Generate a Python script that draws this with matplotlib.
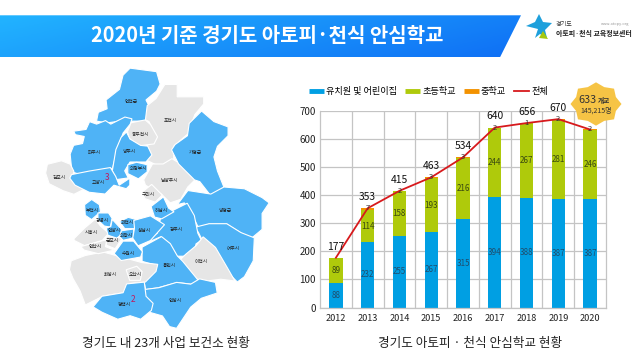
import numpy as np
import matplotlib
matplotlib.use('Agg')
import matplotlib.pyplot as plt
from matplotlib.patches import Polygon
from matplotlib.lines import Line2D

plt.rcParams['font.family'] = ['Noto Sans CJK KR', 'DejaVu Sans']

years = ['2012', '2013', '2014', '2015', '2016', '2017', '2018', '2019', '2020']
kinder = [88, 232, 255, 267, 315, 394, 388, 387, 387]
elementary = [89, 114, 158, 193, 216, 244, 267, 281, 246]
middle = [0, 7, 2, 3, 3, 2, 1, 2, 2]
total = [177, 353, 415, 463, 534, 640, 656, 670, 633]
total_labels = ['177', '353', '415', '463', '534', '640', '656', '670', '']
yticks = [0, 100, 200, 300, 400, 500, 600, 700]

BLUE = '#4fb3f6'
GRAY = '#e6e6e6'

# map outlines, in zoomed crop coordinates (x/3+30, y/3+200)
regions = [
    (BLUE, [(300,-390),(375,-380),(385,-345),(375,-325),(345,-300),(355,-280),(350,-240),(300,-240),(270,-240),(235,-235),(205,-240),(210,-265),(235,-275),(232,-300),(270,-330),(280,-370)]),
    (GRAY, [(405,-340),(440,-340),(440,-305),(515,-305),(515,-285),(490,-255),(470,-200),(430,-165),(430,-125),(395,-105),(355,-125),(350,-160),(362,-175),(380,-195),(360,-235),(350,-240),(355,-280),(380,-300)]),
    (GRAY, [(305,-230),(345,-238),(360,-225),(380,-190),(370,-170),(330,-165),(300,-185),(295,-205)]),
    (BLUE, [(135,-205),(170,-210),(180,-232),(200,-225),(225,-235),(240,-225),(280,-245),(300,-240),(295,-225),(275,-200),(260,-160),(245,-100),(200,-90),(160,-80),(130,-90),(125,-140),(135,-165),(160,-170),(165,-190),(140,-195)]),
    (BLUE, [(290,-200),(300,-180),(330,-162),(350,-160),(362,-135),(345,-115),(300,-115),(285,-90),(295,-70),(260,-65),(250,-90),(260,-150),(275,-185)]),
    (BLUE, [(295,-105),(320,-112),(350,-105),(350,-85),(325,-65),(295,-80)]),
    (GRAY, [(55,-105),(95,-115),(120,-105),(130,-85),(125,-65),(160,-35),(130,-20),(100,-30),(60,-50),(50,-80)]),
    (BLUE, [(130,-75),(180,-85),(240,-95),(255,-70),(265,-45),(295,-65),(295,-45),(285,-35),(250,-45),(225,-20),(180,-25),(140,-45),(125,-65)]),
    (GRAY, [(345,-60),(370,-105),(400,-105),(425,-120),(450,-105),(490,-60),(470,-40),(450,-5),(420,5),(410,-5),(395,-20),(375,-30),(350,-45)]),
    (BLUE, [(515,-260),(550,-230),(590,-215),(590,-190),(560,-160),(550,-130),(560,-90),(582,-35),(545,-15),(510,-60),(495,-65),(450,-110),(430,-150),(440,-165),(475,-190),(480,-225)]),
    (GRAY, [(340,-25),(365,-45),(395,-15),(375,5),(345,-5)]),
    (BLUE, [(480,-25),(545,-15),(582,-35),(640,-30),(690,-5),(710,10),(690,40),(690,85),(660,110),(630,95),(590,70),(540,70),(510,80),(490,40),(470,10),(450,15)]),
    (BLUE, [(500,85),(540,75),(590,75),(630,100),(668,115),(665,180),(640,225),(620,240),(590,210),(560,150),(520,120),(510,100)]),
    (BLUE, [(470,15),(490,50),(500,100),(510,120),(495,130),(490,150),(460,165),(440,165),(420,130),(395,110),(360,125),(370,110),(385,100),(395,55),(430,35)]),
    (GRAY, [(520,115),(555,145),(590,205),(610,240),(570,235),(530,240),(500,235),(455,180),(470,165),(500,140)]),
    (BLUE, [(340,145),(395,115),(420,135),(440,170),(455,185),(500,240),(480,250),(440,245),(385,260),(350,265),(345,240),(375,210),(375,195),(340,185)]),
    (BLUE, [(350,270),(390,265),(440,250),(480,255),(505,240),(550,250),(555,280),(510,295),(480,320),(440,380),(420,375),(400,345),(365,335),(345,300)]),
    (GRAY, [(130,185),(170,170),(220,160),(330,190),(375,195),(370,215),(340,245),(290,250),(280,275),(220,285),(170,310),(155,270),(135,235),(125,210)]),
    (BLUE, [(290,255),(340,250),(345,290),(365,310),(360,330),(330,355),(300,345),(265,355),(220,335),(195,320),(220,290),(280,280)]),
    (GRAY, [(290,210),(320,200),(335,215),(330,240),(300,240)]),
]
regions_center = [
    (GRAY, [(0,130),(30,100),(60,75),(75,95),(98,115),(80,135),(30,150),(0,135)]),
    (GRAY, [(20,155),(95,135),(90,155),(115,165),(70,175),(30,165)]),
    (GRAY, [(95,125),(140,130),(120,160),(95,150)]),
    (BLUE, [(30,30),(50,15),(72,30),(75,50),(50,72),(32,60)]),
    (BLUE, [(70,55),(100,55),(110,70),(105,95),(88,92),(70,75)]),
    (BLUE, [(112,75),(140,105),(135,120),(125,128),(100,120),(95,100),(108,95)]),
    (BLUE, [(135,80),(160,68),(185,75),(180,100),(150,100)]),
    (BLUE, [(140,108),(175,103),(175,128),(145,135),(135,125)]),
    (BLUE, [(178,78),(225,65),(265,90),(225,135),(190,150),(175,128),(180,100)]),
    (BLUE, [(230,35),(265,8),(280,40),(295,50),(260,70),(240,65)]),
    (BLUE, [(120,175),(145,140),(175,140),(200,170),(195,185),(140,195)]),
]
city_names = ['연천군', '포천시', '동두천시', '파주시', '양주시', '의정부시', '김포시', '고양시', '남양주시', '가평군', '구리시',
              '부천시', '광명시', '하남시', '양평군', '과천시', '안양시', '의왕시', '성남시', '광주시', '시흥시', '군포시',
              '안산시', '수원시', '여주시', '이천시', '용인시', '화성시', '오산시', '안성시', '평택시']
city_pos = [(305,-295),(422,-240),(330,-195),(192,-142),(298,-145),(325,-95),(88,-67),(205,-53),(417,-57),(497,-142),(355,-15),
            (186,30),(218,60),(393,32),(585,33),(293,68),(253,90),(288,107),(343,90),(440,88),(183,97),(248,123),
            (197,138),(295,160),(610,146),(515,185),(417,197),(240,222),(315,225),(435,300),(283,313)]


def crop(p):
    return (p[0] / 3 + 30, p[1] / 3 + 200)


def crop_center(p):
    return (p[0] / 3 + 75, p[1] / 3 + 195)


def grow(pts, k):
    # enlarge a shape about its centre so neighbours meet without gaps
    pts = np.array(pts)
    c = pts.mean(axis=0)
    return c + (pts - c) * k


fig = plt.figure(figsize=(6.43, 3.61), dpi=100)
bg = fig.add_axes([0, 0, 1, 1])
bg.set_xlim(0, 643)
bg.set_ylim(361, 0)
bg.axis('off')

# title banner with gradient
banner = Polygon([(0, 15.3), (521, 15.3), (500, 57.3), (0, 57.3)], closed=True, fc='none', ec='none')
bg.add_patch(banner)
xx, yy = np.meshgrid(np.linspace(0, 1, 200), np.linspace(0, 1, 40))
grad = bg.imshow(0.75 * xx + 0.25 * yy, extent=(0, 521, 57.3, 15.3), aspect='auto',
                 cmap=matplotlib.colors.LinearSegmentedColormap.from_list('b', ['#22b4ff', '#0f6ff5']))
grad.set_clip_path(banner)
bg.set_xlim(0, 643)
bg.set_ylim(361, 0)
bg.text(267.5, 36, '2020년 기준 경기도 아토피·천식 안심학교', color='white', fontsize=14.4,
        fontweight='bold', ha='center', va='center')

# logo
star = [(539, 14), (543, 22), (552, 23), (545, 30), (547, 38), (540, 34), (535, 38), (538, 29), (526, 26), (535, 22)]
bg.add_patch(Polygon(star, closed=True, fc='#1ea0dc', ec='none'))
bg.add_patch(Polygon([(539, 38), (543, 31), (548, 39)], closed=True, fc='#a6c80f', ec='none'))
bg.text(556, 24, '경기도', fontsize=4.4, color='#333333', va='center')
bg.text(556, 33, '아토피·천식 교육정보센터', fontsize=5.0, color='#222222', fontweight='bold', va='center')
bg.text(629, 24.5, 'www.atopy.org', fontsize=2.8, color='#999999', ha='right', va='center')

# map
for color, outline in regions:
    bg.add_patch(Polygon(grow([crop(p) for p in outline], 1.06), closed=True, fc=color, ec='white', lw=0.8))
for color, outline in regions_center:
    bg.add_patch(Polygon(grow([crop_center(p) for p in outline], 1.06), closed=True, fc=color, ec='white', lw=0.8))
for name, p in zip(city_names, city_pos):
    x, y = crop(p)
    bg.text(x, y, name, fontsize=3.4, color='#222222', ha='center', va='center')
bg.text(*crop((232, -68)), '3', fontsize=6, color='#c2185b', ha='center', va='center')
bg.text(*crop((310, 300)), '2', fontsize=6, color='#c2185b', ha='center', va='center')

bg.text(166, 343.5, '경기도 내 23개 사업 보건소 현황', fontsize=9.1, color='#222222', fontweight='medium', ha='center', va='center')
bg.text(470, 343.5, '경기도 아토피 · 천식 안심학교 현황', fontsize=9.1, color='#222222', fontweight='medium', ha='center', va='center')

# stacked bar chart
ax = fig.add_axes([320 / 643, 1 - 307.5 / 361, 286 / 643, 196.8 / 361])
ax.patch.set_alpha(0)
x = np.arange(len(years))
kinder = np.array(kinder)
elementary = np.array(elementary)
middle = np.array(middle)
ax.bar(x, kinder, 0.42, color='#009fe3', zorder=2)
ax.bar(x, elementary, 0.42, bottom=kinder, color='#afca0b', zorder=2)
ax.bar(x, middle, 0.42, bottom=kinder + elementary, color='#f39200', zorder=2)
ax.plot(x, total, color='#d7191c', lw=1.3, zorder=3)

for i in x:
    ax.text(i, kinder[i] / 2, str(kinder[i]), fontsize=5.8, color='#1f4e6e', ha='center', va='center', zorder=4)
    ax.text(i, kinder[i] + elementary[i] / 2, str(elementary[i]), fontsize=5.8, color='#3a4a10', ha='center', va='center', zorder=4)
    if middle[i] > 0:
        ax.text(i, kinder[i] + elementary[i] + middle[i], str(middle[i]), fontsize=5.5, color='#333333', ha='center', va='center', zorder=4)
    if total_labels[i]:
        ax.text(i, total[i] + 22, total_labels[i], fontsize=7.4, color='#111111', ha='center', va='bottom', zorder=4)

ax.set_xlim(-0.5, 8.5)
ax.set_ylim(0, 700)
ax.set_xticks(x, years)
ax.set_yticks(yticks)
ax.set_xticks(x[:-1] + 0.5, minor=True)
ax.grid(axis='y', color='#c4c4c4', lw=0.9, zorder=0)
ax.grid(axis='x', which='minor', color='#c4c4c4', lw=0.9, zorder=0)
ax.grid(axis='x', which='major', visible=False)
ax.tick_params(axis='both', which='both', length=0, labelsize=6.6, labelcolor='#222222')
ax.tick_params(axis='y', pad=3, labelsize=7)
ax.tick_params(axis='x', pad=5)
for name, spine in ax.spines.items():
    spine.set_color('#c4c4c4')
    spine.set_linewidth(0.9)
ax.spines['top'].set_visible(False)
ax.spines['right'].set_visible(True)

handles = [Line2D([], [], color='#009fe3', lw=3.5, solid_capstyle='butt'),
           Line2D([], [], color='#afca0b', lw=3.5, solid_capstyle='butt'),
           Line2D([], [], color='#f39200', lw=3.5, solid_capstyle='butt'),
           Line2D([], [], color='#d7191c', lw=1.3)]
bg.legend(handles, ['유치원 및 어린이집', '초등학교', '중학교', '전체'], ncol=4, frameon=False,
          fontsize=6.6, loc='center left', bbox_to_anchor=(309 / 643, 1 - 91.5 / 361),
          handlelength=1.6, handletextpad=0.25, columnspacing=0.9, borderpad=0, borderaxespad=0)

# badge for 2020
cx, cy = 596, 104
ang = np.linspace(0, 2 * np.pi, 16, endpoint=False) - np.pi / 2
rad = np.where(np.arange(16) % 2 == 0, 25.5, 21.5)
top = fig.add_axes([0, 0, 1, 1], zorder=5)
top.set_xlim(0, 643)
top.set_ylim(361, 0)
top.axis('off')
top.add_patch(Polygon(np.column_stack([cx + rad * np.cos(ang), cy + rad * np.sin(ang) * 0.85]), closed=True,
                      fc='#f6c445', ec='none'))
top.text(596.5, 100, '633', fontsize=7.8, color='#333333', ha='right', va='center')
top.text(597.5, 101, '개교', fontsize=4.8, color='#333333', fontweight='bold', ha='left', va='center')
top.text(596, 111, '145,215명', fontsize=5, color='#333333', ha='center', va='center')

fig.savefig('out.png', dpi=100)
